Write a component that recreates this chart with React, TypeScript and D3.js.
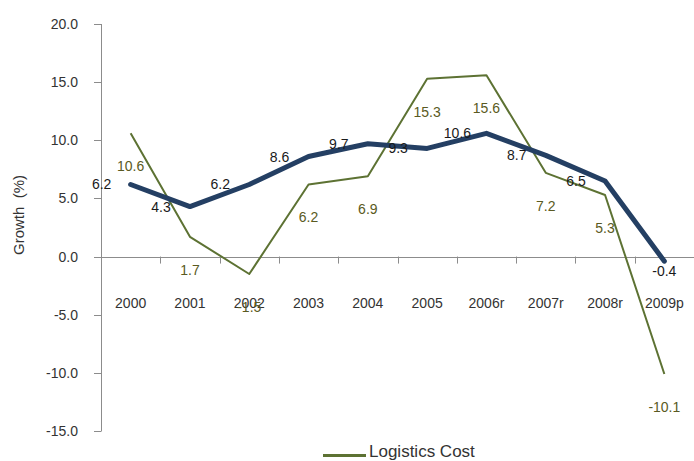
import React from "react";
import * as d3 from "d3";

const categories = ["2000", "2001", "2002", "2003", "2004", "2005", "2006r", "2007r", "2008r", "2009p"];
const gdpGrowth = [6.2, 4.3, 6.2, 8.6, 9.7, 9.3, 10.6, 8.7, 6.5, -0.4];
const logisticsCost = [10.6, 1.7, -1.5, 6.2, 6.9, 15.3, 15.6, 7.2, 5.3, -10.1];
const yTicks = [20, 15, 10, 5, 0, -5, -10, -15];
const legendLabel = "Logistics Cost";
const yTitle = "Growth  (%)";

const W = 694;
const H = 461;
const BLUE = "#243f63";
const GREEN = "#5d7233";
const GREEN_TEXT = "#5a5a22";
const FONT = "'Liberation Sans', Arial, sans-serif";

export default function App() {
  const x = d3.scaleBand<string>().domain(categories).range([101, 694]);
  const y = d3.scaleLinear().domain([-15, 20]).range([431, 24]);
  const cx = (c: string) => (x(c) as number) + x.bandwidth() / 2;

  const line = d3
    .line<number>()
    .x((_, i) => cx(categories[i]))
    .y((v) => y(v));

  const y0 = y(0);

  return (
    <svg
      width={W}
      height={H}
      style={{ position: "absolute", left: 0, top: 0, background: "#fff" }}
      fontFamily={FONT}
    >
      {/* y axis */}
      <line x1={101.5} x2={101.5} y1={y(20)} y2={y(-15)} stroke="#8c8c8c" strokeWidth={1} />
      {yTicks.map((t) => (
        <g key={t}>
          <line x1={94} x2={101.5} y1={Math.round(y(t)) + 0.5} y2={Math.round(y(t)) + 0.5} stroke="#8c8c8c" />
          <text
            x={78}
            y={y(t)}
            textAnchor="end"
            dominantBaseline="central"
            fontSize={14}
            fill="#333"
          >
            {t.toFixed(1)}
          </text>
        </g>
      ))}
      {/* y title */}
      <text
        transform={`translate(24,215) rotate(-90)`}
        textAnchor="middle"
        fontSize={15}
        fill="#333"
        style={{ whiteSpace: "pre" }}
      >
        {yTitle}
      </text>

      {/* category axis at zero */}
      <line x1={101.5} x2={W} y1={Math.round(y0) + 0.5} y2={Math.round(y0) + 0.5} stroke="#8c8c8c" />
      {categories.map((c, i) => (
        <g key={c}>
          {i > 0 && (
            <line
              x1={Math.round(x(c) as number) + 0.5}
              x2={Math.round(x(c) as number) + 0.5}
              y1={y0}
              y2={y0 + 7}
              stroke="#8c8c8c"
            />
          )}
          <text x={cx(c)} y={307.5} textAnchor="middle" fontSize={14} fill="#333">
            {c}
          </text>
        </g>
      ))}

      {/* logistics cost line */}
      <path d={line(logisticsCost) || ""} fill="none" stroke={GREEN} strokeWidth={2} strokeLinejoin="round" />
      {/* gdp line */}
      <path d={line(gdpGrowth) || ""} fill="none" stroke={BLUE} strokeWidth={5} strokeLinejoin="round" strokeLinecap="round" />

      {/* labels */}
      {logisticsCost.map((v, i) => (
        <text
          key={"g" + i}
          x={cx(categories[i])}
          y={y(v) + 33}
          textAnchor="middle"
          dominantBaseline="central"
          fontSize={14}
          fill={GREEN_TEXT}
        >
          {v.toFixed(1)}
        </text>
      ))}
      {gdpGrowth.map((v, i) => {
        const below = v < 0;
        return (
          <text
            key={"b" + i}
            x={below ? cx(categories[i]) : cx(categories[i]) - 29}
            y={below ? y(v) + 10 : y(v)}
            textAnchor="middle"
            dominantBaseline="central"
            fontSize={14}
            fill="#1a1a1a"
          >
            {v.toFixed(1)}
          </text>
        );
      })}

      {/* legend */}
      <line x1={323} x2={366} y1={455.5} y2={455.5} stroke={GREEN} strokeWidth={3} />
      <text x={369} y={457} fontSize={17} fill="#333">
        {legendLabel}
      </text>
    </svg>
  );
}
